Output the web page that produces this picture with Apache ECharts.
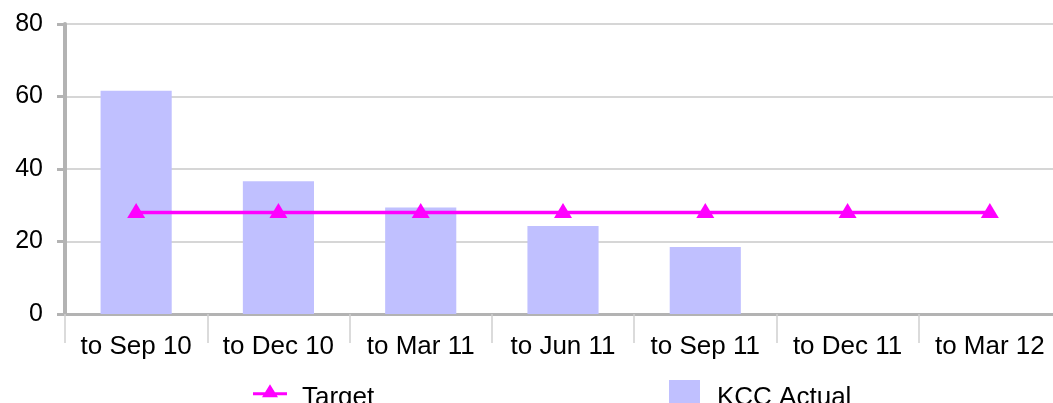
<!DOCTYPE html>
<html>
<head>
<meta charset="utf-8">
<script src="https://cdn.jsdelivr.net/npm/echarts@6/dist/echarts.min.js"></script>
<style>
html,body{margin:0;padding:0;background:#fff;}
#chart{width:1053px;height:403px;}
</style>
</head>
<body>
<div id="chart"></div>
<script>
const categories = ['to Sep 10','to Dec 10','to Mar 11','to Jun 11','to Sep 11','to Dec 11','to Mar 12'];
const targetValues = [28, 28, 28, 28, 28, 28, 28];
const actualValues = [61.6, 36.6, 29.4, 24.3, 18.5, null, null];
const yTicks = { min: 0, max: 80, interval: 20 };

const FONT = '"Liberation Sans", Arial, sans-serif';
const targetIcon = 'path://M0,0 L0.01,0 L0,0.01 Z M0,10.3 L34,10.3 L34,13.3 L0,13.3 Z M9,15.3 L17,2.3 L25,15.3 Z M34,32 L33.99,32 L34,31.99 Z';
const chart = echarts.init(document.getElementById('chart'), null, { renderer: 'canvas' });
chart.setOption({
  animation: false,
  backgroundColor: '#ffffff',
  grid: { left: 65, width: 996, top: 24, bottom: 89, containLabel: false, outerBoundsMode: 'none' },
  legend: [
    {
      data: [{ name: 'Target', icon: targetIcon }],
      left: 253, top: 382, padding: 0,
      itemWidth: 34, itemHeight: 32, symbolKeepAspect: false,
      itemStyle: { color: '#ff00ff', borderWidth: 0 },
      textStyle: { fontFamily: FONT, fontSize: 26, color: '#000', padding: [0,0,0,10] }
    },
    {
      data: [{ name: 'KCC Actual', icon: 'rect' }],
      left: 669, top: 380, padding: 0,
      itemWidth: 31, itemHeight: 35,
      textStyle: { fontFamily: FONT, fontSize: 26, color: '#000', padding: [0,0,0,12] }
    }
  ],
  xAxis: {
    type: 'category',
    data: categories,
    boundaryGap: true,
    axisLine: { show: true, lineStyle: { color: '#b3b3b3', width: 3 } },
    axisTick: { show: true, length: 29, lineStyle: { color: '#d0d0d0', width: 1.5 } },
    axisLabel: { fontFamily: FONT, fontSize: 26, color: '#000', margin: 20, interval: 0 },
    splitLine: { show: false }
  },
  yAxis: {
    type: 'value',
    min: yTicks.min, max: yTicks.max, interval: yTicks.interval,
    axisLine: { show: true, lineStyle: { color: '#b3b3b3', width: 4 } },
    axisTick: { show: true, length: 8, lineStyle: { color: '#b3b3b3', width: 3 } },
    axisLabel: { fontFamily: FONT, fontSize: 25, color: '#000', margin: 22, padding: [5,0,0,0] },
    splitLine: { show: true, lineStyle: { color: '#d6d6d6', width: 2 } }
  },
  series: [
    {
      name: 'Target',
      type: 'line',
      data: targetValues,
      z: 5,
      symbol: 'triangle',
      symbolSize: [18, 15],
      symbolOffset: [0, -2],
      lineStyle: { color: '#ff00ff', width: 3.5 },
      itemStyle: { color: '#ff00ff' }
    },
    {
      name: 'KCC Actual',
      type: 'bar',
      data: actualValues,
      barWidth: '50%',
      z: 2,
      itemStyle: { color: '#c0c0ff' }
    }
  ]
});
</script>
</body>
</html>
